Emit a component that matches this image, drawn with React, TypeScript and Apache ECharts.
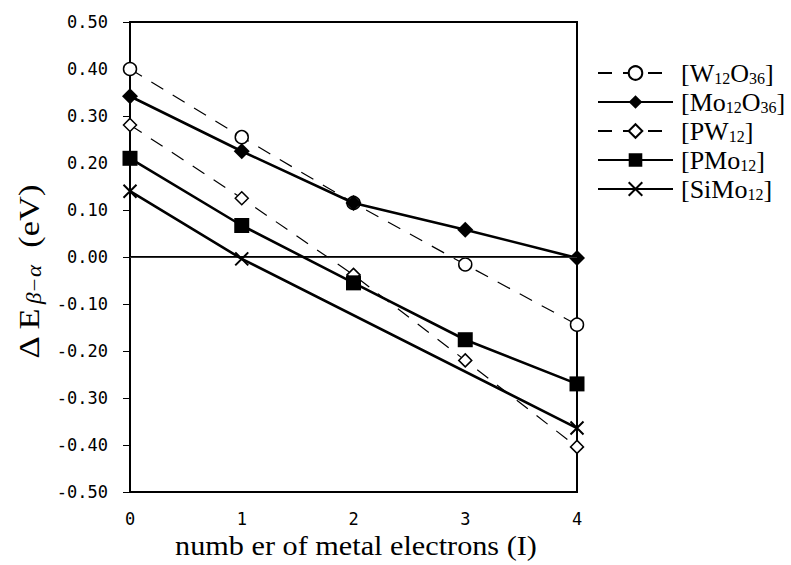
import React, { useEffect, useRef } from "react";
import * as echarts from "echarts";

// ---- data ----
const X_VALUES = [0, 1, 2, 3, 4];
const W12O36 = [0.4, 0.255, 0.115, -0.016, -0.144];
const MO12O36 = [0.342, 0.225, 0.115, 0.058, -0.002];
const PW12 = [0.281, 0.125, -0.038, -0.22, -0.404];
const PMO12 = [0.21, 0.067, -0.055, -0.176, -0.27];
const SIMO_X = [0, 1, 4];
const SIMO12 = [0.14, -0.004, -0.364];

const SERIES_NAMES = ["W12O36", "Mo12O36", "PW12", "PMo12", "SiMo12"];
const LEGEND_LABELS: Record<string, string> = {
  W12O36: "{n|[W}{s|12}{n|O}{s|36}{n|]}",
  Mo12O36: "{n|[Mo}{s|12}{n|O}{s|36}{n|]}",
  PW12: "{n|[PW}{s|12}{n|]}",
  PMo12: "{n|[PMo}{s|12}{n|]}",
  SiMo12: "{n|[SiMo}{s|12}{n|]}",
};
const X_TITLE = "numb er of metal electrons (I)";
const Y_TITLE = "{n|Δ E}{s|β−α}{n|  (eV)}";

const SERIF = "'Liberation Serif', 'Times New Roman', serif";
const MONO = "'DejaVu Sans Mono', monospace";

export default function App() {
  const ref = useRef<HTMLDivElement>(null);
  useEffect(() => {
    if (!ref.current) return;
    const chart = echarts.init(ref.current, null, { renderer: "svg" });
    const pair = (xs: number[], ys: number[]) => xs.map((x, i) => [x, ys[i]]);
    const dashed = { color: "#000", width: 1.2, type: [14, 11] as number[] };
    const solid = { color: "#000", width: 2.6, type: "solid" as const };
    chart.setOption({
      animation: false,
      backgroundColor: "#fff",
      grid: {
        left: 130,
        top: 22,
        right: 214,
        bottom: 73,
        show: true,
        borderColor: "#000",
        borderWidth: 2,
        outerBoundsMode: "none",
      },
      graphic: [
        {
          type: "text",
          x: 356,
          y: 546,
          scaleX: 1.12,
          style: {
            text: X_TITLE,
            fontFamily: SERIF,
            fontSize: 27,
            fill: "#000",
            align: "center",
            verticalAlign: "middle",
          },
        },
        {
          type: "text",
          x: 29,
          y: 272,
          rotation: Math.PI / 2,
          scaleX: 1.15,
          style: {
            text: Y_TITLE,
            align: "center",
            verticalAlign: "middle",
            rich: {
              n: { fontFamily: SERIF, fontSize: 30, fill: "#000", lineHeight: 32 },
              s: {
                fontFamily: SERIF,
                fontSize: 20,
                fontStyle: "italic",
                fill: "#000",
                verticalAlign: "bottom",
                lineHeight: 12,
                padding: [0, 0, 0, 3],
              },
            },
          },
        },
      ],
      legend: {
        orient: "vertical",
        left: 592,
        top: 55,
        itemWidth: 75,
        itemHeight: 17,
        itemGap: 3,
        selectedMode: false,
        data: SERIES_NAMES,
        formatter: (name: string) => LEGEND_LABELS[name],
        textStyle: {
          padding: [0, 0, 0, 3],
          rich: {
            n: { fontFamily: SERIF, fontSize: 26, color: "#000", lineHeight: 26 },
            s: { fontFamily: SERIF, fontSize: 16, color: "#000", verticalAlign: "bottom", lineHeight: 10 },
          },
        },
      },
      xAxis: {
        type: "value",
        min: 0,
        max: 4,
        interval: 1,
        axisLine: { show: true, lineStyle: { color: "#000", width: 2 } },
        axisTick: { show: false },
        splitLine: { show: false },
        axisLabel: { fontFamily: MONO, fontSize: 17, color: "#000", margin: 18 },
      },
      yAxis: {
        type: "value",
        min: -0.5,
        max: 0.5,
        interval: 0.1,
        axisLine: { show: true, lineStyle: { color: "#000", width: 2 } },
        axisTick: { show: true, inside: false, length: 7, lineStyle: { color: "#000", width: 1 } },
        splitLine: { show: false },
        axisLabel: {
          fontFamily: MONO,
          fontSize: 17,
          color: "#000",
          margin: 22,
          formatter: (v: number) => v.toFixed(2),
        },
      },
      series: [
        {
          name: "W12O36",
          type: "line",
          data: pair(X_VALUES, W12O36),
          symbol: "circle",
          symbolSize: 13,
          itemStyle: { color: "#fff", borderColor: "#000", borderWidth: 1.5 },
          lineStyle: dashed,
          z: 3,
          markLine: {
            silent: true,
            symbol: "none",
            label: { show: false },
            lineStyle: { color: "#333", width: 1, type: "solid" },
            data: [{ yAxis: 0 }],
          },
        },
        {
          name: "Mo12O36",
          type: "line",
          data: pair(X_VALUES, MO12O36),
          symbol: "diamond",
          symbolSize: 16,
          itemStyle: { color: "#000", borderColor: "#000", borderWidth: 0 },
          lineStyle: solid,
          z: 4,
        },
        {
          name: "PW12",
          type: "line",
          data: pair(X_VALUES, PW12),
          symbol: "diamond",
          symbolSize: 13,
          itemStyle: { color: "#fff", borderColor: "#000", borderWidth: 1.5 },
          lineStyle: dashed,
          z: 3,
        },
        {
          name: "PMo12",
          type: "line",
          data: pair(X_VALUES, PMO12),
          symbol: "rect",
          symbolSize: 15,
          itemStyle: { color: "#000", borderColor: "#000", borderWidth: 0 },
          lineStyle: solid,
          z: 5,
        },
        {
          name: "SiMo12",
          type: "line",
          data: pair(SIMO_X, SIMO12),
          symbol: "path://M0,0L10,10M0,10L10,0",
          symbolSize: 13,
          itemStyle: { color: "transparent", borderColor: "#000", borderWidth: 2 },
          lineStyle: solid,
          z: 5,
        },
      ],
    });
    return () => chart.dispose();
  }, []);
  return (
    <div
      ref={ref}
      style={{ position: "fixed", left: 0, top: 0, width: 791, height: 565, background: "#fff" }}
    />
  );
}
